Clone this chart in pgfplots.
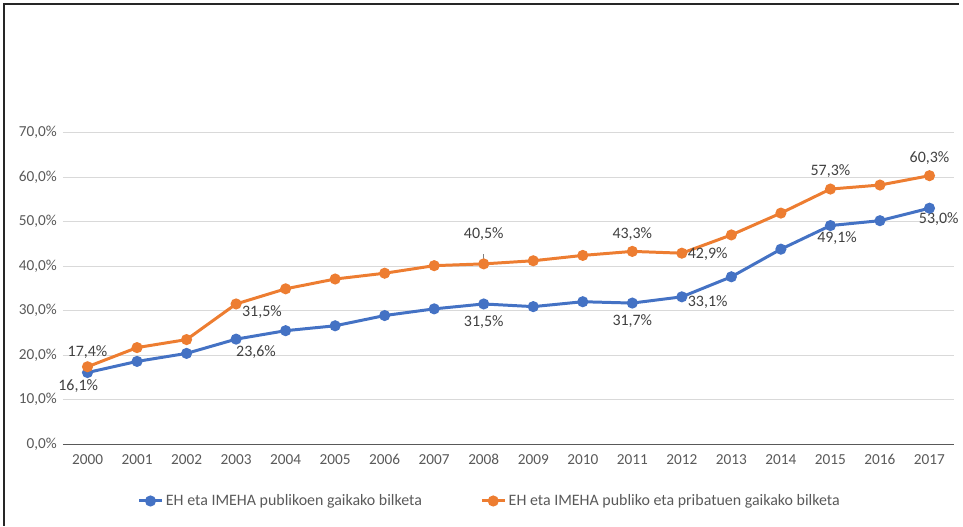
\documentclass[border=0pt]{standalone}
\usepackage{pgfplots}
\pgfplotsset{compat=1.18}
\usepackage{fontspec}
\setmainfont{Carlito}

\definecolor{serieA}{HTML}{4472C4}
\definecolor{serieB}{HTML}{ED7D31}
\definecolor{tickgray}{HTML}{595959}
\definecolor{lblgray}{HTML}{404040}
\definecolor{gridgray}{HTML}{D9D9D9}

% years at 0..17
\pgfplotstableread{
x y
0 16.1
1 18.6
2 20.4
3 23.6
4 25.5
5 26.6
6 28.9
7 30.4
8 31.5
9 30.9
10 32.0
11 31.7
12 33.1
13 37.6
14 43.8
15 49.1
16 50.2
17 53.0
}\publikoen

\pgfplotstableread{
x y
0 17.4
1 21.7
2 23.5
3 31.5
4 34.9
5 37.1
6 38.4
7 40.1
8 40.5
9 41.2
10 42.4
11 43.3
12 42.9
13 47.0
14 51.9
15 57.3
16 58.2
17 60.3
}\pribatuen

\begin{document}
\begin{tikzpicture}
\begin{axis}[
  scale only axis,
  width=671.25pt, height=234.75pt,
  xmin=-0.5, xmax=17.5,
  ymin=0, ymax=70,
  xtick={0,...,17},
  xticklabels={2000,2001,2002,2003,2004,2005,2006,2007,2008,2009,2010,2011,2012,2013,2014,2015,2016,2017},
  ytick={0,10,...,70},
  yticklabel={\pgfmathprintnumber{\tick}\%},
  /pgf/number format/.cd, fixed, fixed zerofill, precision=1, use comma, assume math mode=true,
  /pgfplots/.cd,
  ymajorgrids,
  grid style={gridgray, line width=0.75pt},
  axis line style={draw=none},
  major tick length=0pt,
  tick label style={font=\fontsize{11.5}{13}\selectfont, text=tickgray},
  xticklabel style={yshift=-4pt},
  yticklabel style={xshift=-1pt},
  legend columns=2,
  legend style={at={(0.4793,-0.182)}, anchor=center, draw=none, fill=none,
    font=\fontsize{12}{14}\selectfont, text=tickgray,
    /tikz/every even column/.append style={column sep=42pt}},
  legend cell align=left,
  clip=false,
]
\draw[tickgray, line width=1pt] (rel axis cs:0,0) -- (rel axis cs:1,0);
\addplot[serieA, line width=2.25pt, mark=*, mark size=3pt] table[x=x,y=y]{\publikoen};
\addlegendentry{EH eta IMEHA publikoen gaikako bilketa}
\addplot[serieB, line width=2.25pt, mark=*, mark size=3pt] table[x=x,y=y]{\pribatuen};
\addlegendentry{EH eta IMEHA publiko eta pribatuen gaikako bilketa}

\begin{scope}[every node/.style={font=\fontsize{12}{14}\selectfont, text=lblgray}]
% orange labels
\node[above=3pt] at (axis cs:0,17.4) {17,4\%};
\node[right=1pt, yshift=-6pt] at (axis cs:3,31.5) {31,5\%};
\node[above=14pt] at (axis cs:8,40.5) {40,5\%};
\draw[gray, line width=0.4pt] (axis cs:8,41.0) -- (axis cs:8,42.7);
\node[above=5pt] at (axis cs:11,43.3) {43,3\%};
\node[right=1pt, yshift=-1pt] at (axis cs:12,42.9) {42,9\%};
\node[above=5pt] at (axis cs:15,57.3) {57,3\%};
\node[above=5pt] at (axis cs:17,60.3) {60,3\%};
% blue labels
\node[below=2pt, xshift=-7pt] at (axis cs:0,16.1) {16,1\%};
\node[below=1pt, xshift=15pt] at (axis cs:3,23.6) {23,6\%};
\node[below=5pt] at (axis cs:8,31.5) {31,5\%};
\node[below=5pt] at (axis cs:11,31.7) {31,7\%};
\node[right=1pt, yshift=-4pt] at (axis cs:12,33.1) {33,1\%};
\node[below=1pt, xshift=5pt] at (axis cs:15,49.1) {49,1\%};
\node[below=0pt, xshift=7pt] at (axis cs:17,53.0) {53,0\%};
\end{scope}
\end{axis}
\draw[black!85, line width=0.9pt] (-44.25pt,-61.5pt) -- (-44.25pt,331.5pt) -- (675pt,331.5pt);
\useasboundingbox (-47.25pt,-61.5pt) rectangle (675pt,334.5pt);
\end{tikzpicture}
\end{document}
